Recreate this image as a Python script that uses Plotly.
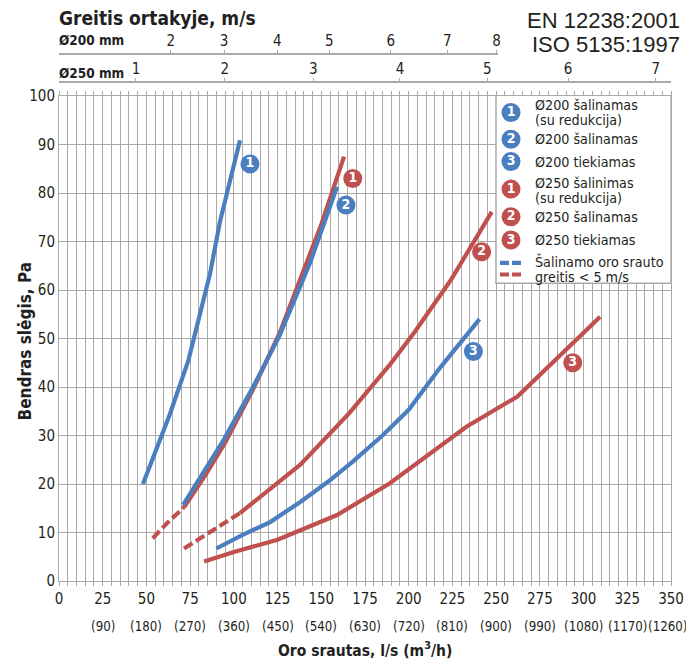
import plotly.graph_objects as go

FONT = "DejaVu Sans Condensed, Liberation Sans Narrow, Roboto Condensed, Roboto, sans-serif"
BLUE = "#4a7ebf"
RED = "#c0504d"
GRID = "#a9a9a9"
TXT = "#231f20"

# ---------------- data (flow l/s, pressure Pa) ----------------
b1_q = [48, 56, 63.5, 74, 80, 86.4, 92, 103.5]
b1_p = [20, 27.5, 34.5, 45.5, 54.5, 63.4, 74, 90.9]

b2_q = [71, 82, 94, 111, 126, 143.5, 159]
b2_p = [15.7, 22, 29, 40, 50.5, 65.5, 81.3]

b3_q = [90, 105, 121, 138, 154, 168, 185, 200, 218, 240.5]
b3_p = [6.7, 9.5, 12.2, 16.3, 20.5, 24.6, 30, 35.3, 44, 54]

r1_dash_q = [53.6, 62, 71.5]
r1_dash_p = [8.8, 12, 15.2]
r1_q = [71.5, 84, 95, 111, 126, 137, 150, 163]
r1_p = [15.2, 22, 28.5, 39.5, 51, 61.4, 73.5, 87.5]

r2_dash_q = [71.5, 87, 103.5]
r2_dash_p = [6.7, 10.3, 14]
r2_q = [103.5, 120, 138, 166, 189, 203.5, 224, 247.5]
r2_p = [14, 18.7, 24, 34.6, 44.5, 51.4, 62, 76.1]

r3_q = [83, 100, 125, 138, 159, 189, 210, 233, 262, 309.5]
r3_p = [4, 6, 8.5, 10.5, 13.6, 20.1, 25.6, 31.8, 38, 54.5]

# curve number labels (flow, pressure, number, colour)
lbl_q = [109.2, 164.1, 237.0, 168.0, 241.7, 293.8]
lbl_p = [86.0, 77.5, 47.3, 83.0, 67.9, 45.0]
lbl_n = ["1", "2", "3", "1", "2", "3"]
lbl_c = [BLUE, BLUE, BLUE, RED, RED, RED]

# axes ticks
flow_ticks = list(range(0, 351, 25))
flow_m3h = ["(90)", "(180)", "(270)", "(360)", "(450)", "(540)", "(630)",
            "(720)", "(810)", "(900)", "(990)", "(1080)", "(1170)", "(1260)"]
d200_q = [63.9, 94.4, 124.9, 154.6, 189.7, 222.1, 250.3]
d200_v = ["2", "3", "4", "5", "6", "7", "8"]
d250_q = [44.0, 94.8, 145.4, 195.0, 244.9, 291.1, 341.3]
d250_v = ["1", "2", "3", "4", "5", "6", "7"]

# legend
leg_num = ["1", "2", "3", "1", "2", "3"]
leg_col = [BLUE, BLUE, BLUE, RED, RED, RED]
leg_lines = [["Ø200 šalinamas", "(su redukcija)"], ["Ø200 šalinamas"], ["Ø200 tiekiamas"],
             ["Ø250 šalinimas", "(su redukcija)"], ["Ø250 šalinamas"], ["Ø250 tiekiamas"],
             ["Šalinamo oro srauto", "greitis < 5 m/s"]]

fig = go.Figure()

LW = 4.2
def line(q, p, color, dash="solid"):
    fig.add_trace(go.Scatter(x=q, y=p, mode="lines", line=dict(color=color, width=LW, dash=dash),
                             showlegend=False, hoverinfo="skip"))

line(r3_q, r3_p, RED)
line(b3_q, b3_p, BLUE)
line(r2_dash_q, r2_dash_p, RED, "10px,4px")
line(r2_q, r2_p, RED)
line(r1_dash_q, r1_dash_p, RED, "10px,4px")
line(r1_q, r1_p, RED)
line(b2_q, b2_p, BLUE)
line(b1_q, b1_p, BLUE)

fig.add_trace(go.Scatter(x=lbl_q, y=lbl_p, mode="markers+text", text=[f"<b>{n}</b>" for n in lbl_n],
                         marker=dict(size=19, color=lbl_c),
                         textfont=dict(family=FONT, size=14, color="white"),
                         textposition="middle center", showlegend=False, hoverinfo="skip"))

# legend box
LX0, LX1, LY0, LY1 = 249.9, 350, 61.4, 100.3
fig.add_shape(type="rect", xref="x", yref="y", x0=LX0, x1=LX1, y0=LY0, y1=LY1,
              fillcolor="white", line=dict(color=GRID, width=1.5), layer="between")
leg_y = [96.6, 91.1, 86.5, 80.8, 75.1, 70.3]
fig.add_trace(go.Scatter(x=[258.5] * len(leg_num), y=leg_y, mode="markers+text",
                         text=[f"<b>{n}</b>" for n in leg_num],
                         marker=dict(size=19, color=leg_col),
                         textfont=dict(family=FONT, size=14, color="white"),
                         textposition="middle center", showlegend=False, hoverinfo="skip"))
fig.add_trace(go.Scatter(x=[252.2, 264.6], y=[65.6, 65.6], mode="lines",
                         line=dict(color=BLUE, width=LW, dash="9px,3px"), showlegend=False, hoverinfo="skip"))
fig.add_trace(go.Scatter(x=[252.2, 264.6], y=[63.2, 63.2], mode="lines",
                         line=dict(color=RED, width=LW, dash="9px,3px"), showlegend=False, hoverinfo="skip"))

leg_text_y = [[98.1, 95.0], [91.1], [86.4], [82.0, 78.9], [75.1], [70.3], [65.8, 62.7]]
annotations = []
for lines, ys in zip(leg_lines, leg_text_y):
    for t, yy in zip(lines, ys):
        annotations.append(dict(x=270.9, y=yy, xref="x", yref="y", text=t, showarrow=False,
                                xanchor="left", yanchor="middle",
                                font=dict(family=FONT, size=14.2, color=TXT)))

# dummy traces to create the top velocity axes
fig.add_trace(go.Scatter(x=[0], y=[0], xaxis="x2", yaxis="y2", mode="markers",
                         marker=dict(opacity=0), showlegend=False, hoverinfo="skip"))
fig.add_trace(go.Scatter(x=[0], y=[0], xaxis="x3", yaxis="y3", mode="markers",
                         marker=dict(opacity=0), showlegend=False, hoverinfo="skip"))

# second row of bottom tick labels
n_lab = len(flow_m3h)
for i, (q, lab) in enumerate(zip(flow_ticks[1:], flow_m3h)):
    annotations.append(dict(x=q, xref="x", y=-0.0814, yref="paper", text=lab, showarrow=False,
                            xanchor="center", yanchor="middle", xshift=(-4 if i == n_lab - 1 else 0),
                            font=dict(family=FONT, size=13.2, color=TXT)))

annotations += [
    dict(x=0.5, y=-0.122, xref="paper", yref="paper", text="<b>Oro srautas, l/s (m<sup>3</sup>/h)</b>",
         showarrow=False, xanchor="center", yanchor="middle", font=dict(family=FONT, size=15.5, color=TXT)),
    dict(x=-0.0556, y=0.424, xref="paper", yref="paper", text="<b>Bendras slėgis, Pa</b>", textangle=-90,
         showarrow=False, xanchor="center", yanchor="middle", font=dict(family=FONT, size=17, color=TXT)),
    dict(x=-0.003, y=0.99646, xref="paper", yref="paper", text="<b>Greitis ortakyje, m/s</b>",
         showarrow=False, xanchor="left", yanchor="middle", font=dict(family=FONT, size=19, color=TXT)),
    dict(x=-0.003, y=0.9575, xref="paper", yref="paper", text="<b>Ø200 mm</b>",
         showarrow=False, xanchor="left", yanchor="middle", font=dict(family=FONT, size=13.5, color=TXT)),
    dict(x=-0.003, y=0.8986, xref="paper", yref="paper", text="<b>Ø250 mm</b>",
         showarrow=False, xanchor="left", yanchor="middle", font=dict(family=FONT, size=13.5, color=TXT)),
    dict(x=1.018, y=0.99204, xref="paper", yref="paper", text="EN 12238:2001",
         showarrow=False, xanchor="right", yanchor="middle",
         font=dict(family="Liberation Sans, Arial, sans-serif", size=22, color=TXT)),
    dict(x=1.018, y=0.9487, xref="paper", yref="paper", text="ISO 5135:1997",
         showarrow=False, xanchor="right", yanchor="middle",
         font=dict(family="Liberation Sans, Arial, sans-serif", size=22, color=TXT)),
]

YTOP = 485 / 565
tickfont = dict(family=FONT, size=15, color=TXT)
fig.update_layout(
    width=686, height=652,
    margin=dict(l=51, r=23, t=8, b=79, autoexpand=False),
    paper_bgcolor="white", plot_bgcolor="white",
    font=dict(family=FONT, color=TXT),
    showlegend=False,
    annotations=annotations,
    xaxis=dict(domain=[0, 1], range=[0, 350], anchor="y", tickvals=flow_ticks, automargin=False,
               ticks="outside", ticklen=4, tickcolor=GRID, showline=True, linecolor=GRID,
               linewidth=1, mirror="ticks", showgrid=True, gridcolor=GRID, gridwidth=1,
               minor=dict(dtick=5, tick0=0, ticks="outside", ticklen=4, tickcolor=GRID,
                          showgrid=True, gridcolor=GRID, gridwidth=1),
               zeroline=False, tickfont=tickfont),
    yaxis=dict(domain=[0, YTOP], range=[0, 100], dtick=10, anchor="x", showgrid=True, automargin=False,
               gridcolor=GRID, gridwidth=1, showline=True, linecolor=GRID, mirror=True,
               zeroline=False, ticks="", tickfont=tickfont),
    xaxis2=dict(domain=[0, 0.71732], range=[0, 0.71732 * 350], anchor="y2", side="top", automargin=False,
                tickvals=d200_q, ticktext=d200_v, ticks="outside", ticklen=3, tickcolor=GRID,
                ticklabelstandoff=-2,
                showline=True, linecolor=GRID, linewidth=1.5, showgrid=False, zeroline=False,
                tickfont=tickfont),
    yaxis2=dict(domain=[0.925, 0.931], range=[0, 1], anchor="x2", visible=False, automargin=False),
    xaxis3=dict(domain=[0, 1], range=[0, 350], anchor="y3", side="top", automargin=False,
                tickvals=d250_q, ticktext=d250_v, ticks="outside", ticklen=3, tickcolor=GRID,
                ticklabelstandoff=-2,
                showline=True, linecolor=GRID, linewidth=1.5, showgrid=False, zeroline=False,
                tickfont=tickfont),
    yaxis3=dict(domain=[0.876, 0.88195], range=[0, 1], anchor="x3", visible=False, automargin=False),
)

fig.write_html("out.html")
